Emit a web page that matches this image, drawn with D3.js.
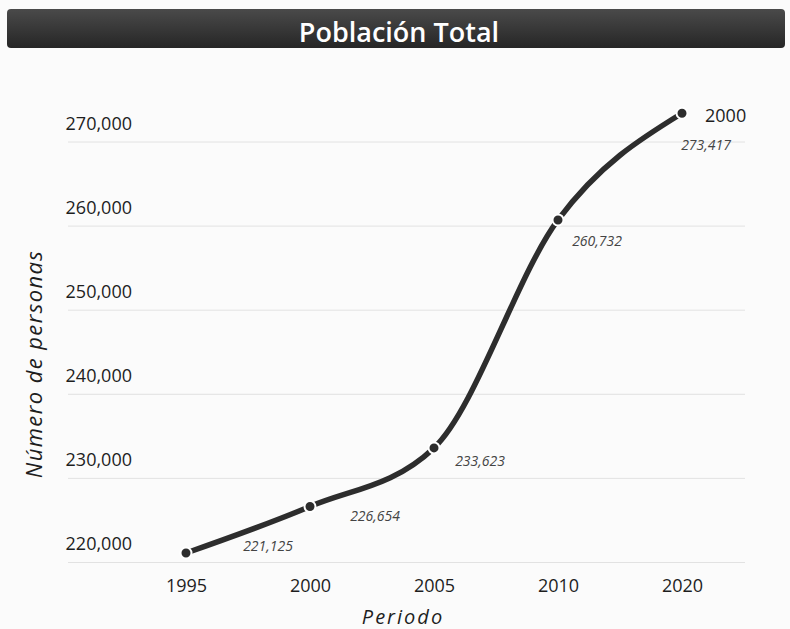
<!DOCTYPE html>
<html><head><meta charset="utf-8">
<script src="https://cdn.jsdelivr.net/npm/d3@7"></script>
<style>
html,body{margin:0;padding:0;background:#fff;}
svg{display:block;}
</style></head>
<body><svg id="c" width="790" height="629"></svg>
<script>
// ---- data ----
const periods = ["1995", "2000", "2005", "2010", "2020"];
const population = [221125, 226654, 233623, 260732, 273417];
const valueLabels = ["221,125", "226,654", "233,623", "260,732", "273,417"];
const yTicks = [220000, 230000, 240000, 250000, 260000, 270000];
const seriesName = "2000";
const title = "Población Total";
const xTitle = "Periodo";
const yTitle = "Número de personas";

// ---- layout ----
const svg = d3.select("#c");
const W = 790, H = 629;
const x = d3.scalePoint().domain(periods).range([186, 682]);
const y = d3.scaleLinear().domain([220000, 270000]).range([562.5, 142]);

// background
svg.append("rect").attr("width", W).attr("height", H).attr("fill", "#fbfbfb");

// title bar
const g0 = svg.append("defs").append("linearGradient").attr("id","tb").attr("x1",0).attr("y1",0).attr("x2",0).attr("y2",1);
g0.append("stop").attr("offset","0%").attr("stop-color","#4a4a4a");
g0.append("stop").attr("offset","100%").attr("stop-color","#262626");
svg.append("rect").attr("x", 7).attr("y", 9).attr("width", 778).attr("height", 39).attr("rx", 4)
  .attr("fill", "url(#tb)");
svg.append("text").attr("x", 399).attr("y", 42).attr("text-anchor", "middle")
  .attr("font-family", "Open Sans").attr("font-weight", 600).attr("font-size", 27)
  .attr("fill", "#fff").text(title);

// gridlines
svg.append("g").selectAll("line").data(yTicks).join("line")
  .attr("x1", 68).attr("x2", 745).attr("y1", d => y(d)).attr("y2", d => y(d))
  .attr("stroke", "#e2e2e2").attr("stroke-width", 1);

// y ticks (labels sit above their gridline)
const yAxis = d3.axisLeft(y).tickValues(yTicks).tickSize(0).tickFormat(d3.format(","));
const ga = svg.append("g").attr("transform", "translate(134,0)").call(yAxis);
ga.select(".domain").remove();
ga.selectAll("text").attr("font-family", "Open Sans").attr("font-size", 18)
  .attr("fill", "#1e1e1e").attr("dy", "-0.72em").attr("x", -2);

// x axis
const xAxis = d3.axisBottom(x).tickSize(0);
const gx = svg.append("g").attr("transform", "translate(0,575)").call(xAxis);
gx.select(".domain").remove();
gx.selectAll("text").attr("font-family", "Open Sans").attr("font-size", 18)
  .attr("fill", "#1e1e1e").attr("dy", "0.8em");

// axis titles
svg.append("text").attr("x", 403).attr("y", 624).attr("text-anchor", "middle")
  .attr("font-family", "Open Sans").attr("font-style", "italic").attr("font-size", 20)
  .attr("letter-spacing", 2).attr("fill", "#1e1e1e").text(xTitle);
svg.append("text").attr("transform", "translate(42,364) rotate(-90)").attr("text-anchor", "middle")
  .attr("font-family", "Open Sans").attr("font-style", "italic").attr("font-size", 22)
  .attr("letter-spacing", 1.4).attr("fill", "#1e1e1e").text(yTitle);

// line
const pts = periods.map((p, i) => ({p, v: population[i], lab: valueLabels[i]}));
const line = d3.line().x(d => x(d.p)).y(d => y(d.v)).curve(d3.curveMonotoneX);
svg.append("path").datum(pts).attr("d", line).attr("fill", "none")
  .attr("stroke", "#2d2d2d").attr("stroke-width", 5.5).attr("stroke-linecap", "round");
svg.append("g").selectAll("circle").data(pts).join("circle")
  .attr("cx", d => x(d.p)).attr("cy", d => y(d.v)).attr("r", 5.5)
  .attr("fill", "#2d2d2d").attr("stroke", "#fff").attr("stroke-width", 2);

// value labels (layout offsets relative to each point)
const labelOffsets = [[82, -2], [65, 14], [46, 18], [39, 26], [24, 37]];
svg.append("g").selectAll("text").data(pts).join("text")
  .attr("x", (d, i) => x(d.p) + labelOffsets[i][0])
  .attr("y", (d, i) => y(d.v) + labelOffsets[i][1])
  .attr("text-anchor", "middle").attr("font-family", "Open Sans").attr("font-style", "italic")
  .attr("font-size", 14).attr("fill", "#444").text(d => d.lab);

// series name label at last point
const last = pts[pts.length - 1];
svg.append("text").attr("x", x(last.p) + 23).attr("y", y(last.v) + 9)
  .attr("font-family", "Open Sans").attr("font-size", 18).attr("fill", "#1e1e1e").text(seriesName);
</script></body></html>
